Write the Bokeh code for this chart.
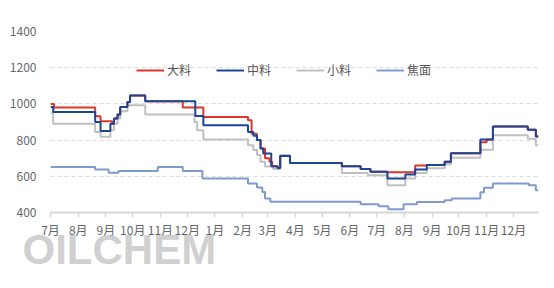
import pandas as pd
from bokeh.plotting import figure
from bokeh.models import (Range1d, FixedTicker, CustomJSTickFormatter, Legend,
                          LegendItem, Title)
from bokeh.embed import file_html
from bokeh.resources import INLINE

START = "2022-07-01"
END = "2023-12-29"

# 大料
dl_dates = ["2022-07-01", "2022-07-05", "2022-08-20", "2022-08-26", "2022-09-08", "2022-09-10",
            "2022-09-14", "2022-09-17", "2022-09-25", "2022-09-28", "2022-10-15", "2022-11-26",
            "2022-12-19", "2023-02-07", "2023-02-11", "2023-02-17", "2023-02-21", "2023-02-26",
            "2023-03-03", "2023-03-06", "2023-03-12", "2023-03-15", "2023-03-26", "2023-05-23",
            "2023-06-13", "2023-06-24", "2023-07-13", "2023-08-13", "2023-08-26", "2023-09-15",
            "2023-09-22", "2023-10-25", "2023-11-01", "2023-11-08", "2023-12-17", "2023-12-26", END]
dl_vals = [1000, 980, 932, 904, 891, 919,
           941, 983, 1010, 1047, 1014, 980,
           928, 909, 835, 800, 753, 700,
           681, 655, 646, 712, 673, 656,
           640, 625, 622, 660, 662, 680,
           727, 788, 803, 875, 857, 820, 820]

# 中料
zl_dates = ["2022-07-01", "2022-07-04", "2022-08-20", "2022-08-26", "2022-09-06", "2022-09-10",
            "2022-09-14", "2022-09-17", "2022-09-25", "2022-09-28", "2022-10-15", "2022-12-10",
            "2022-12-19", "2023-02-07", "2023-02-13", "2023-02-17", "2023-02-21", "2023-02-24",
            "2023-03-05", "2023-03-12", "2023-03-15", "2023-03-26", "2023-05-23", "2023-06-13",
            "2023-06-24", "2023-07-13", "2023-08-02", "2023-08-13", "2023-08-26", "2023-09-15",
            "2023-09-22", "2023-10-25", "2023-11-08", "2023-12-17", "2023-12-26", END]
zl_vals = [983, 955, 900, 850, 891, 919,
           941, 983, 1010, 1047, 1014, 933,
           882, 845, 824, 800, 753, 726,
           655, 646, 712, 673, 656, 640,
           625, 588, 610, 638, 662, 680,
           727, 803, 875, 857, 820, 820]

# 小料
xl_dates = ["2022-07-01", "2022-07-04", "2022-08-20", "2022-08-26", "2022-09-06", "2022-09-10",
            "2022-09-14", "2022-09-17", "2022-09-25", "2022-10-15", "2022-12-09", "2022-12-12",
            "2022-12-19", "2023-02-07", "2023-02-13", "2023-02-17", "2023-02-21", "2023-02-26",
            "2023-03-07", "2023-03-15", "2023-03-26", "2023-05-23", "2023-06-21", "2023-07-13",
            "2023-08-02", "2023-08-13", "2023-08-26", "2023-09-15", "2023-09-22", "2023-10-25",
            "2023-11-08", "2023-12-17", "2023-12-26", END]
xl_vals = [950, 891, 845, 818, 854, 891,
           919, 960, 992, 941, 900, 854,
           803, 772, 745, 717, 681, 654,
           640, 717, 673, 618, 606, 550,
           588, 618, 645, 667, 703, 746,
           827, 808, 772, 772]

# 焦面
jm_dates = ["2022-07-01", "2022-08-20", "2022-09-04", "2022-09-15", "2022-10-29", "2022-11-26",
            "2022-12-18", "2023-02-07", "2023-02-17", "2023-02-23", "2023-02-26", "2023-03-04",
            "2023-06-13", "2023-07-03", "2023-07-14", "2023-07-31", "2023-08-15", "2023-09-15",
            "2023-09-23", "2023-10-25", "2023-10-29", "2023-11-08", "2023-12-18", "2023-12-26", END]
jm_vals = [651, 638, 620, 629, 651, 629,
           588, 560, 538, 513, 477, 460,
           445, 435, 418, 445, 458, 468,
           477, 512, 537, 560, 550, 523, 523]

series_names = ["大料", "中料", "小料", "焦面"]
y_ticks = [400, 600, 800, 1000, 1200, 1400]
watermark = "OILCHEM"

FONT = "Noto Sans CJK SC"

x0 = pd.Timestamp(START)
x1 = pd.Timestamp(END)
p = figure(width=554, height=288, x_axis_type="datetime", output_backend="svg",
           toolbar_location=None, x_range=Range1d(x0, x1), y_range=Range1d(400, 1400),
           min_border_left=50, min_border_right=16, min_border_top=31, min_border_bottom=76)
p.outline_line_color = None
p.background_fill_color = "white"
p.border_fill_color = "white"

month_ticks = [int(t.value // 10**6) for t in pd.date_range("2022-07-01", "2023-12-01", freq="MS")]
p.xaxis.ticker = FixedTicker(ticks=month_ticks)
p.xaxis.formatter = CustomJSTickFormatter(code="const d = new Date(tick); return (d.getUTCMonth()+1) + '月';")
p.xaxis.axis_line_color = "#d6d6d6"
p.xaxis.axis_line_width = 2
p.xaxis.major_tick_line_color = "#d6d6d6"
p.xaxis.major_tick_line_width = 1.5
p.xaxis.major_tick_out = 5
p.xaxis.major_tick_in = 0
p.xaxis.minor_tick_line_color = None
p.xaxis.major_label_standoff = 3
p.xaxis.major_label_text_font = FONT
p.xaxis.major_label_text_font_size = "12px"
p.xaxis.major_label_text_color = "#666666"

p.yaxis.ticker = FixedTicker(ticks=y_ticks)
p.yaxis.axis_line_color = None
p.yaxis.major_tick_line_color = None
p.yaxis.minor_tick_line_color = None
p.yaxis.major_label_standoff = 8
p.yaxis.major_label_text_font = FONT
p.yaxis.major_label_text_font_size = "12px"
p.yaxis.major_label_text_color = "#666666"

p.xgrid.visible = False
p.ygrid.ticker = FixedTicker(ticks=y_ticks[1:])
p.ygrid.grid_line_color = "#dcdcdc"
p.ygrid.grid_line_dash = "4 3"
p.ygrid.grid_line_width = 1

r_jm = p.step(pd.to_datetime(jm_dates), jm_vals, mode="after", line_color="#7f9bcd", line_width=2)
r_xl = p.step(pd.to_datetime(xl_dates), xl_vals, mode="after", line_color="#c0c0c0", line_width=2)
r_dl = p.step(pd.to_datetime(dl_dates), dl_vals, mode="after", line_color="#e0352b", line_width=2)
r_zl = p.step(pd.to_datetime(zl_dates), zl_vals, mode="after", line_color="#1b4595", line_width=2)

legend = Legend(items=[LegendItem(label=series_names[0], renderers=[r_dl]),
                       LegendItem(label=series_names[1], renderers=[r_zl]),
                       LegendItem(label=series_names[2], renderers=[r_xl]),
                       LegendItem(label=series_names[3], renderers=[r_jm])],
                orientation="horizontal", location=(86, 134),
                background_fill_alpha=0, border_line_alpha=0,
                glyph_width=28, glyph_height=14, label_standoff=3, spacing=25,
                padding=0, margin=0,
                label_text_font=FONT, label_text_font_size="12px", label_text_color="#555555")
p.add_layout(legend)

wm = Title(text=watermark, align="left", vertical_align="top", offset=-28, standoff=-30,
           text_font="Liberation Sans", text_font_style="bold", text_font_size="42px",
           text_color="#c8c8c8", text_alpha=0.85, text_line_height=0.8)
p.add_layout(wm, "below")

open("out.html", "w").write(file_html(p, INLINE))
